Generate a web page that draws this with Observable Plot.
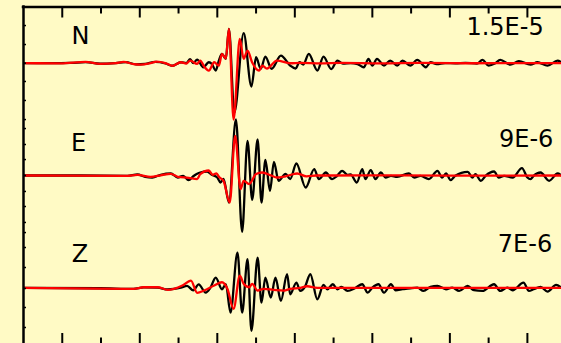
<!DOCTYPE html>
<html><head><meta charset="utf-8">
<script src="https://cdn.jsdelivr.net/npm/d3@7"></script>
<script src="https://cdn.jsdelivr.net/npm/@observablehq/plot@0.6"></script>
<style>html,body{margin:0;padding:0;background:#fffac5;} #chart{width:561px;height:343px;overflow:hidden}</style>
</head><body><div id="chart"></div>
<script>
// Components and peak-amplitude labels
const components = ["N", "E", "Z"];
const ampLabels = ["1.5E-5", "9E-6", "7E-6"];
// Time ticks (s)
const majorTicks = [10, 20, 30, 40, 50, 60, 70];
const minorTicks = [15, 25, 35, 45, 55, 65];
// Left-frame ticks (trace units)
const leftTicks = [0.335, 0.166, 0, -0.163, -0.332, -0.502, -0.582, -0.724, -0.858, -1, -1.142, -1.276, -1.418, -1.508, -1.641, -1.819, -2.006, -2.175, -2.353];

// Waveforms: [time s, amplitude counts] — black = observed, red = synthetic
const nBlack = [[5.0,0],[8.5,0],[11.1,0.2],[13.0,1.1],[14.9,-0.6],[16.9,0.1],[18.2,1.0],[19.5,-1.2],[20.7,-0.7],[22.0,1.3],[23.3,-0.2],[24.2,-2.6],[25.3,0.9],[26.0,0],[26.5,3.9],[26.9,0.1],[27.4,3.6],[28.2,-4.1],[28.9,0.9],[29.3,-0.9],[29.8,-7.4],[30.2,2.6],[30.6,9.3],[31.1,4.3],[31.5,34.3],[32.2,-49.4],[33.4,30.1],[34.4,-23.4],[35.0,5.9],[35.6,-5.7],[36.2,6.6],[37.0,-5.7],[38.2,7.6],[39.4,-2.4],[40.1,-5.4],[40.6,0.9],[41.1,-1.4],[41.8,9.3],[42.9,-7.4],[43.7,6.6],[44.7,-5.9],[45.5,2.6],[46.2,-0.4],[47.2,0.1],[48.1,-0.9],[48.9,-4.1],[49.5,4.3],[50.0,-2.4],[50.6,4.3],[51.5,-2.4],[52.3,2.6],[53.2,-2.4],[53.9,2.6],[54.9,-2.4],[55.8,3.3],[56.9,-4.1],[57.5,0.9],[58.3,-0.9],[59.4,0.1],[60.7,-0.2],[62.0,0.3],[63.5,-0.4],[64.2,3.3],[65.0,-2.4],[65.8,-0.4],[66.5,3.3],[67.8,-1.4],[68.9,1.9],[70.4,-1.4],[71.3,0.9],[72.6,-2.4],[73.9,2.6],[74.4,0.6]];
const nRed = [[5.0,0],[9.8,-0.2],[13.0,1.3],[14.9,-0.7],[16.9,0.1],[17.9,1.3],[19.2,-0.9],[20.1,-1.4],[21.4,0.1],[22.2,1.6],[23.3,0.1],[24.2,-2.7],[25.3,0.9],[26.0,-0.4],[26.5,2.6],[27.4,-0.7],[27.8,2.6],[28.3,-3.4],[28.9,-7.4],[29.6,0.9],[30.2,-2.4],[30.6,9.3],[31.1,4.6],[31.5,34.3],[32.1,-56.4],[32.9,24.3],[33.4,4.3],[33.9,12.6],[34.5,0.6],[35.4,-7.4],[35.8,-2.4],[36.4,-5.4],[37.7,2.6],[39.4,-0.1],[40.7,0.3],[43.3,-0.2],[45.9,0.2],[51.1,-0.2],[56.2,0.2],[62.7,-0.1],[69.1,0.1],[74.4,0]];
const eBlack = [[5.0,0],[12.4,0],[18.4,-0.3],[19.7,1.0],[20.7,-1.3],[21.6,-2.0],[22.7,0.7],[24.0,2.0],[24.9,-2.0],[25.6,-0.3],[26.3,-4.6],[26.9,-0.8],[27.4,1.7],[27.8,3.0],[28.7,4.0],[29.3,0.7],[30.0,-2.0],[30.4,-7.0],[30.8,-3.3],[31.5,-27.0],[32.4,56.0],[33.2,-56.3],[33.9,34.7],[34.5,-24.3],[35.2,36.0],[35.7,-27.0],[36.2,15.7],[36.8,-15.3],[37.3,13.7],[37.9,-5.3],[38.8,1.7],[39.4,-3.6],[40.2,12.0],[41.4,-12.0],[42.5,6.4],[43.1,-3.6],[44.0,3.0],[44.8,-3.6],[45.4,-0.8],[46.1,4.7],[46.8,0.7],[47.2,1.2],[48.0,-7.0],[48.7,6.4],[49.1,-3.6],[49.8,5.4],[50.4,-3.6],[51.1,3.0],[51.7,-2.0],[52.4,-0.3],[53.2,-1.3],[54.7,2.0],[55.4,-2.0],[56.2,-0.3],[57.3,-3.6],[58.4,4.7],[59.0,-2.0],[59.5,2.0],[60.1,-4.6],[60.7,-0.3],[62.3,3.7],[62.9,-2.0],[63.3,1.4],[64.0,-5.3],[64.6,-0.3],[65.7,4.0],[66.3,-2.0],[67.0,-0.3],[68.1,-2.0],[69.3,7.4],[70.0,-2.0],[70.4,-3.6],[70.8,-0.3],[71.7,3.0],[72.8,-5.3],[73.9,2.0],[74.4,0]];
const eRed = [[5.0,0],[18.4,-0.3],[19.7,0.7],[21.4,-1.3],[22.7,0.2],[24.0,1.7],[24.9,-1.3],[26.3,-2.3],[27.4,-3.6],[27.8,1.4],[28.9,5.0],[29.4,0.7],[29.9,2.2],[30.2,-1.3],[30.8,-5.3],[31.6,-27.0],[32.3,39.7],[33.0,-13.6],[33.4,-5.3],[34.1,-8.6],[35.0,1.4],[35.8,3.0],[36.9,0.2],[37.7,-2.0],[38.8,-0.8],[40.3,2.0],[41.5,-0.8],[42.8,0],[44.6,0],[53.6,0.2],[64.0,-0.2],[74.4,0]];
const zBlack = [[5.0,0],[14.9,-0.4],[19.2,-1.1],[20.5,0.4],[22.3,0.2],[23.6,-1.6],[24.4,-1.1],[25.3,0.2],[26.1,1.9],[26.9,-2.5],[27.6,3.4],[28.5,-4.8],[29.1,-0.1],[29.8,10.2],[30.6,-1.4],[31.1,3.6],[31.7,-24.8],[32.6,35.2],[33.2,-24.8],[33.9,28.6],[34.4,-43.1],[35.2,30.2],[35.7,-14.8],[36.2,10.2],[36.9,-9.8],[37.5,10.2],[38.2,-13.1],[39.0,13.6],[39.4,-6.4],[40.2,5.2],[40.7,-3.1],[41.3,0.9],[42.0,13.6],[42.9,-11.4],[43.7,2.9],[44.2,-1.4],[44.9,3.6],[45.5,-1.4],[46.0,0.9],[46.8,-3.1],[47.8,-0.1],[48.7,3.6],[49.4,-4.8],[50.0,0.2],[50.8,3.6],[51.5,-4.8],[52.4,3.6],[53.0,-2.4],[53.9,-1.4],[54.9,-0.4],[55.8,0.2],[56.6,-3.1],[57.5,0.9],[58.4,1.9],[59.5,-1.4],[60.3,0.2],[61.2,-3.1],[62.3,1.9],[63.1,-2.4],[64.2,-3.1],[65.7,3.6],[66.5,-3.1],[67.4,0.2],[68.1,-2.4],[69.5,5.2],[70.2,-3.1],[70.8,-1.4],[71.7,0.9],[72.6,-3.8],[73.7,2.9],[74.4,0]];
const zRed = [[5.0,0],[19.2,-1.0],[20.5,0.6],[22.3,0.6],[23.6,-2.0],[24.4,-1.0],[25.5,2.3],[26.6,7.3],[27.4,-5.0],[28.3,-2.7],[29.6,2.3],[30.6,5.6],[31.3,-1.0],[32.1,-21.0],[32.9,12.3],[33.4,4.0],[34.1,0.6],[34.5,4.0],[35.2,-2.7],[36.0,-1.0],[37.3,-2.0],[38.6,-2.7],[39.4,-1.0],[40.7,0],[41.6,1.6],[42.9,0],[74.4,0]];

// Scale parameters
const tMin = 5, tMax = 74.4;
const yMin = -2.5, yMax = 0.5;
const countsPerTrace = 112.3;
const offsets = [0, -1, -2];

const series = [
  {comp: "N", kind: "obs", pts: nBlack}, {comp: "E", kind: "obs", pts: eBlack}, {comp: "Z", kind: "obs", pts: zBlack},
  {comp: "N", kind: "syn", pts: nRed}, {comp: "E", kind: "syn", pts: eRed}, {comp: "Z", kind: "syn", pts: zRed}
];
const rows = series.flatMap(s => s.pts.map(([t, v]) => ({
  key: s.comp + s.kind, kind: s.kind, t,
  y: offsets[components.indexOf(s.comp)] + v / countsPerTrace
})));

const font = "DejaVu Sans";
const noText = () => "";
const chart = Plot.plot({
  width: 561, height: 343,
  marginLeft: 23, marginRight: 0, marginTop: 6.5, marginBottom: 0,
  style: {background: "#fffac5", overflow: "hidden"},
  x: {domain: [tMin, tMax], label: null},
  y: {domain: [yMin, yMax], range: [343.5, 6.5], label: null},
  marks: [
    Plot.line(rows.filter(d => d.kind === "obs"), {x: "t", y: "y", z: "key", stroke: "black", strokeWidth: 2.3, curve: "monotone-x", clip: true}),
    Plot.line(rows.filter(d => d.kind === "syn"), {x: "t", y: "y", z: "key", stroke: "#ff0000", strokeWidth: 2.3, curve: "monotone-x", clip: true}),
    Plot.axisX(majorTicks, {anchor: "top", label: null, tickSize: 10, dy: 10, tickFormat: noText, stroke: "black", strokeWidth: 2}),
    Plot.axisX(minorTicks, {anchor: "top", label: null, tickSize: 6, dy: 6, tickFormat: noText, stroke: "black", strokeWidth: 2}),
    Plot.axisX(majorTicks, {anchor: "bottom", label: null, tickSize: 10, dy: -10, tickFormat: noText, stroke: "black", strokeWidth: 2}),
    Plot.axisX(minorTicks, {anchor: "bottom", label: null, tickSize: 5.5, dy: -5.5, tickFormat: noText, stroke: "black", strokeWidth: 2}),
    Plot.axisY(leftTicks, {anchor: "left", label: null, tickSize: 3, dx: 3, tickFormat: noText, stroke: "black", strokeWidth: 1.5}),
    Plot.ruleY([yMax], {stroke: "black", strokeWidth: 2.5, strokeLinecap: "square"}),
    Plot.ruleX([tMin], {stroke: "black", strokeWidth: 2.5, strokeLinecap: "square"}),
    Plot.text(components, {
      x: (d, i) => [12.35, 12.1, 12.3][i],
      y: (d, i) => offsets[i] + [0.175, 0.216, 0.228][i],
      text: d => d, textAnchor: "middle", lineAnchor: "bottom",
      fontSize: 24, fontFamily: font, fill: "black"
    }),
    Plot.text(ampLabels, {
      x: (d, i) => [72.1, 73.35, 73.2][i],
      y: (d, i) => offsets[i] + [0.2525, 0.258, 0.317][i],
      text: d => d, textAnchor: "end", lineAnchor: "bottom",
      fontSize: 24, fontFamily: font, fill: "black"
    })
  ]
});
document.getElementById("chart").appendChild(chart);
</script>
</body></html>
